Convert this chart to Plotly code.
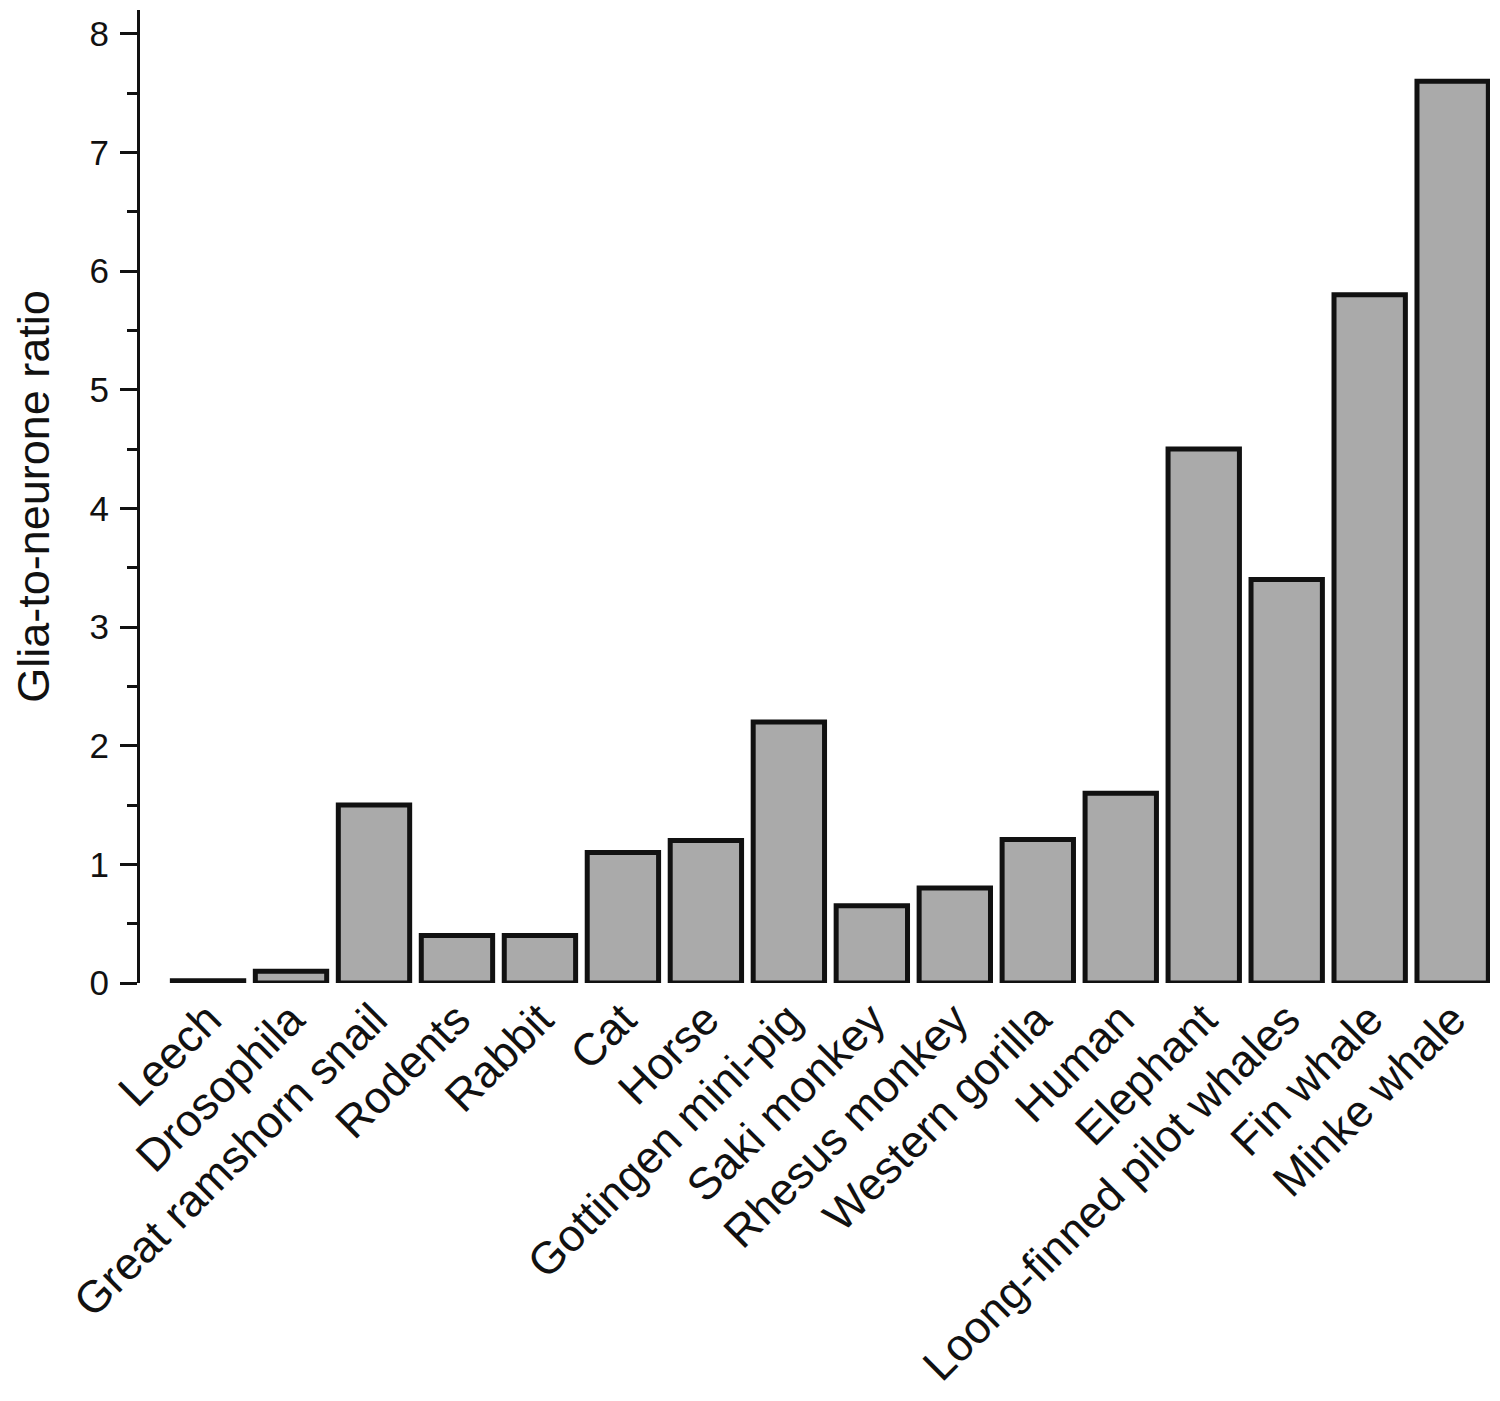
import plotly.graph_objects as go

# Glia-to-neurone ratio by species
species = ['Leech', 'Drosophila', 'Great ramshorn snail', 'Rodents', 'Rabbit', 'Cat', 'Horse',
           'Gottingen mini-pig', 'Saki monkey', 'Rhesus monkey', 'Western gorilla', 'Human',
           'Elephant', 'Loong-finned pilot whales', 'Fin whale', 'Minke whale']
ratio = [0.02, 0.1, 1.5, 0.4, 0.4, 1.1, 1.2, 2.2, 0.65, 0.8, 1.21, 1.6, 4.5, 3.4, 5.8, 7.6]

font_name = 'Liberation Sans, Arial, sans-serif'

fig = go.Figure()
fig.add_trace(go.Bar(x=list(range(len(species))), y=ratio, width=0.86,
                     marker=dict(color='#aaaaaa', line=dict(color='#111111', width=5))))

# page body has an 8px margin, so the figure is sized/offset to land on the reference
fig.update_layout(
    width=1484, height=1385,
    margin=dict(l=132, r=2, t=2, b=410),
    plot_bgcolor='white', paper_bgcolor='white',
    showlegend=False,
    font=dict(family=font_name, size=35, color='#111111'),
)
fig.update_xaxes(range=[-0.82, 15.45], tickmode='array', tickvals=list(range(len(species))),
                 ticktext=species, tickangle=-45, ticks='', showline=False, showgrid=False,
                 zeroline=False, tickfont=dict(size=45))
fig.update_yaxes(range=[0, 8.2], tickvals=list(range(9)), ticks='outside', ticklen=17,
                 tickwidth=3, tickcolor='#111111', showline=True, linewidth=3, linecolor='#111111',
                 showgrid=False, zeroline=False, ticklabelstandoff=4,
                 minor=dict(tickvals=[i + 0.5 for i in range(8)], ticks='outside', ticklen=10,
                            tickwidth=3, tickcolor='#111111'),
                 title=dict(text='Glia-to-neurone ratio', font=dict(size=45), standoff=38),
                 tickfont=dict(size=35))

fig.write_html("out.html")
